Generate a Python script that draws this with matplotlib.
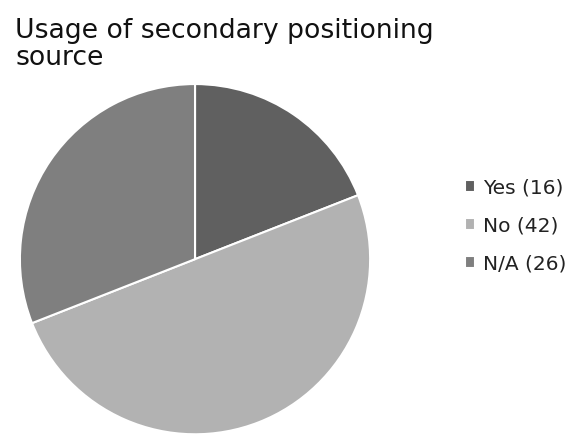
import matplotlib
matplotlib.use("Agg")
import matplotlib.pyplot as plt

labels = ["Yes", "No", "N/A"]
counts = [16, 42, 26]
colors = ["#606060", "#b2b2b2", "#7f7f7f"]

fig = plt.figure(figsize=(5.77, 4.4), dpi=100)
ax = fig.add_axes([0.033, 0.011, 0.610, 0.80])

wedges, _ = ax.pie(counts, colors=colors, startangle=90, counterclock=False,
                   wedgeprops=dict(edgecolor="white", linewidth=1.5))
ax.set_xlim(-1.005, 1.005)
ax.set_ylim(-1.005, 1.005)
ax.set_aspect("equal")

fig.text(0.026, 0.96, "Usage of secondary positioning\nsource", fontsize=19.2,
         va="top", ha="left", color="#111111", linespacing=1.05)

leg_labels = ["%s (%d)" % (l, c) for l, c in zip(labels, counts)]
fig.legend(wedges, leg_labels, loc="center left", bbox_to_anchor=(0.775, 0.487),
           frameon=False, fontsize=14.5, handlelength=0.5, handleheight=0.5,
           handletextpad=0.4, labelspacing=0.95, labelcolor="#222222")

fig.savefig("out.png", dpi=100)
